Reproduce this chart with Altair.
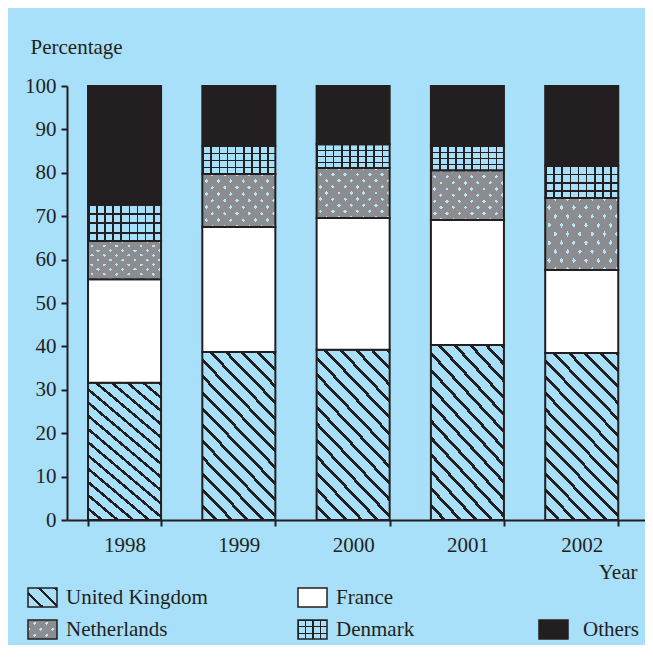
import altair as alt
import pandas as pd

# ---------------- data ----------------
years = ["1998", "1999", "2000", "2001", "2002"]
countries = ["United Kingdom", "France", "Netherlands", "Denmark", "Others"]
uk = [31.6, 38.7, 39.2, 40.3, 38.5]
france = [23.9, 28.8, 30.4, 28.8, 19.1]
netherlands = [8.8, 12.2, 11.5, 11.5, 16.6]
denmark = [8.5, 6.5, 5.5, 5.6, 7.4]
others = [27.2, 13.8, 13.4, 13.8, 18.4]
y_ticks = [0, 10, 20, 30, 40, 50, 60, 70, 80, 90, 100]

series = [uk, france, netherlands, denmark, others]
rows = []
for ci, (c, vals) in enumerate(zip(countries, series)):
    for y, v in zip(years, vals):
        rows.append({"Year": y, "Country": c, "Value": v, "order": ci})
df = pd.DataFrame(rows)

# ---------------- styles ----------------
BG = "#a8dff9"
INK = "#231f20"
GRAY = "#8b8d90"
DOT = "#b8e5f8"
CLEAR = "rgba(0,0,0,0)"
FONT = "Liberation Serif"
FS = 21


def stripes(x1, y1, x2, y2, n, bg, fg, frac):
    stops = []
    for i in range(n):
        a = i / n
        b = (i + frac) / n
        c = (i + 1) / n
        stops += [{"offset": a, "color": fg}, {"offset": b, "color": fg},
                  {"offset": b, "color": bg}, {"offset": c, "color": bg}]
    return {"gradient": "linear", "x1": x1, "y1": y1, "x2": x2, "y2": y2, "stops": stops}


def hatch(w, h, n, bg, fg, frac):
    # "\" direction lines at ~45 degrees for a box of aspect w:h
    r = w / h
    s = (r + 1) / (r * r + 1)
    return stripes(1, 0, 1 - r * s, s, n, bg, fg, frac)


def hatch_rev(w, h, n, bg, fg, frac):
    # "/" direction lines at ~45 degrees for a box of aspect w:h
    r = w / h
    s = (r + 1) / (r * r + 1)
    return stripes(0, 0, r * s, s, n, bg, fg, frac)


bar_fills = {
    "United Kingdom": [hatch(73, 163, 15, BG, INK, 0.25)],
    "France": ["#ffffff"],
    "Netherlands": [hatch(73, 50, 10, GRAY, DOT, 0.3),
                    hatch_rev(73, 50, 10, CLEAR, GRAY, 0.7)],
    "Denmark": [stripes(0, 0, 0, 1, 4, BG, INK, 0.2),
                stripes(0, 0, 1, 0, 9, CLEAR, INK, 0.2)],
    "Others": [INK],
}
legend_fills = {
    "United Kingdom": [hatch(29, 19, 3, BG, INK, 0.22)],
    "France": ["#ffffff"],
    "Netherlands": [hatch(29, 19, 4, GRAY, DOT, 0.3),
                    hatch_rev(29, 19, 4, CLEAR, GRAY, 0.7)],
    "Denmark": [stripes(0, 0, 0, 1, 3, BG, INK, 0.15),
                stripes(0, 0, 1, 0, 4, CLEAR, INK, 0.15)],
    "Others": [INK],
}
legend_pos = {
    "United Kingdom": (-39, 502),
    "France": (231, 502),
    "Netherlands": (-39, 534),
    "Denmark": (231, 534),
    "Others": (472, 534),
}

x_enc = alt.X(
    "Year:O", sort=years,
    scale=alt.Scale(paddingInner=0.361, paddingOuter=0.209, align=0.44),
    axis=alt.Axis(
        title="Year", tickBand="extent", tickSize=6, tickWidth=2, tickColor=INK,
        domainColor=INK, domainWidth=2, labelAngle=0, labelFont=FONT, labelFontSize=FS,
        labelColor=INK, labelPadding=8, grid=False,
        titleFont=FONT, titleFontSize=FS, titleFontWeight="normal", titleColor=INK,
        titleAlign="right", titleBaseline="middle", titleX=570, titleY=52, titleAngle=0,
    ),
)
y_axis = alt.Axis(
    values=y_ticks, tickSize=6, tickWidth=2, tickColor=INK, domainColor=INK,
    domainWidth=2, labelFont=FONT, labelFontSize=FS, labelColor=INK, labelPadding=5,
    grid=False, title="Percentage", titleAngle=0, titleX=-37, titleY=-39,
    titleAlign="left", titleBaseline="middle", titleFont=FONT, titleFontSize=FS,
    titleFontWeight="normal", titleColor=INK,
)

base = alt.Chart(df).transform_stack(
    stack="Value", groupby=["Year"], as_=["y0", "y1"], sort=[alt.SortField("order")]
)

layers = []
for c in countries:
    fills = bar_fills[c]
    for k, f in enumerate(fills):
        last = k == len(fills) - 1
        layers.append(
            base.transform_filter(alt.datum.Country == c)
            .mark_bar(fill=f, stroke=INK if last else CLEAR, strokeWidth=2, opacity=1)
            .encode(
                x=x_enc,
                y=alt.Y("y0:Q", scale=alt.Scale(domain=[0, 100], nice=False), axis=y_axis),
                y2="y1:Q",
            )
        )

for c in countries:
    px, py = legend_pos[c]
    one = pd.DataFrame({"label": [c]})
    fills = legend_fills[c]
    for k, f in enumerate(fills):
        last = k == len(fills) - 1
        layers.append(
            alt.Chart(one).mark_rect(fill=f, stroke=INK if last else CLEAR, strokeWidth=1.5)
            .encode(x=alt.value(px), x2=alt.value(px + 29), y=alt.value(py), y2=alt.value(py + 19))
        )
    layers.append(
        alt.Chart(one).mark_text(align="left", baseline="middle", font=FONT, fontSize=FS, color=INK)
        .encode(x=alt.value(px + 38 if c != "Others" else px + 44), y=alt.value(py + 10), text="label:N")
    )

chart = alt.layer(*layers).properties(
    width=578, height=434,
    padding={"left": 59, "top": 78, "right": 0, "bottom": 125},
    autosize=alt.AutoSizeParams(type="none"),
    background=BG,
).configure_view(stroke=None)

chart.save("out.html", embed_options={"renderer": "svg", "actions": False})
